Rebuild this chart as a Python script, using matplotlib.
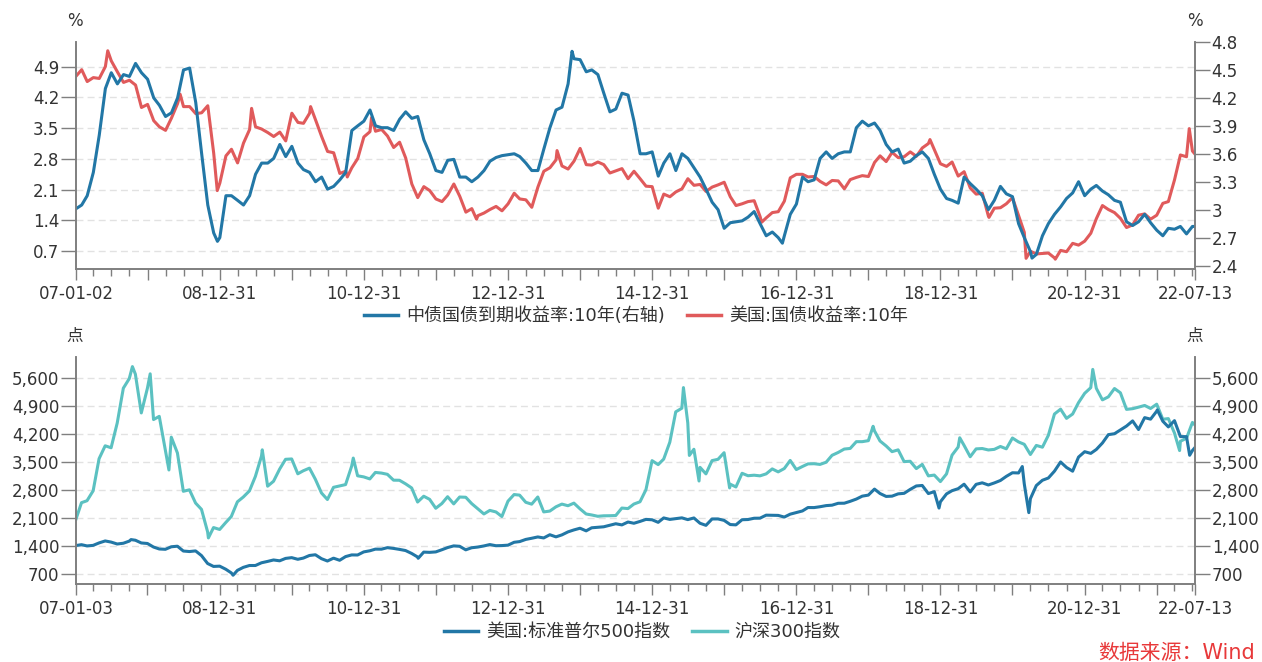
import matplotlib
matplotlib.use('Agg')
import matplotlib.pyplot as plt
import matplotlib.dates as mdates
from matplotlib.lines import Line2D
import pandas as pd

plt.rcParams['font.family'] = ['DejaVu Sans', 'Noto Sans CJK SC']

# ---- data (month-end values, 2007-01 .. 2022-06) ----
months = pd.date_range('2007-01-31', periods=186, freq='ME')

# 美国:国债收益率:10年 (left axis, %)
us_start = ('2007-01-02', 4.68)
us_end = ('2022-07-13', 2.91)
us_monthly = [
    4.83, 4.56, 4.65, 4.63, 4.90, 5.03, 4.78, 4.54, 4.59, 4.48, 3.97, 4.04,
    3.67, 3.53, 3.45, 3.73, 4.06, 3.99, 3.99, 3.83, 3.85, 4.01, 2.93, 2.25,
    2.87, 3.02, 2.71, 3.16, 3.47, 3.53, 3.48, 3.40, 3.31, 3.41, 3.21, 3.84,
    3.63, 3.61, 3.84, 3.69, 3.31, 2.97, 2.94, 2.47, 2.52, 2.60, 2.81, 3.30,
    3.42, 3.43, 3.47, 3.32, 3.06, 3.18, 2.82, 2.23, 1.92, 2.17, 2.08, 1.89,
    1.83, 1.98, 2.23, 1.95, 1.59, 1.67, 1.51, 1.57, 1.65, 1.72, 1.62, 1.78,
    2.02, 1.89, 1.87, 1.70, 2.16, 2.52, 2.60, 2.78, 2.64, 2.57, 2.75, 3.04,
    2.67, 2.66, 2.73, 2.67, 2.48, 2.53, 2.58, 2.35, 2.52, 2.35, 2.18, 2.17,
    1.68, 2.00, 1.94, 2.05, 2.12, 2.35, 2.20, 2.22, 2.06, 2.16, 2.21, 2.27,
    1.94, 1.74, 1.78, 1.83, 1.85, 1.49, 1.46, 1.58, 1.60, 1.84, 2.37, 2.45,
    2.45, 2.39, 2.40, 2.29, 2.21, 2.31, 2.30, 2.12, 2.33, 2.38, 2.42, 2.40,
    2.72, 2.87, 2.74, 2.95, 2.83, 2.85, 2.96, 2.86, 3.05, 3.15, 3.01, 2.69,
    2.63, 2.73, 2.41, 2.51, 2.14, 2.00, 2.02, 1.50, 1.68, 1.69, 1.78, 1.92,
    1.51, 1.13, 0.70, 0.64, 0.65, 0.66, 0.55, 0.72, 0.69, 0.88, 0.84, 0.93,
    1.11, 1.44, 1.74, 1.65, 1.58, 1.45, 1.24, 1.30, 1.52, 1.55, 1.43, 1.52,
    1.79, 1.83, 2.32, 2.89, 2.85, 2.98,
]
us_extra = [('2007-06-12', 5.26), ('2008-06-13', 4.27), ('2008-12-18', 2.08),
            ('2009-06-10', 3.95), ('2010-04-05', 3.99), ('2010-10-08', 2.39),
            ('2011-02-08', 3.74), ('2012-07-24', 1.43), ('2013-09-05', 2.99),
            ('2016-07-08', 1.36), ('2018-11-08', 3.24), ('2019-09-03', 1.47),
            ('2020-03-09', 0.54), ('2020-08-04', 0.52), ('2022-06-14', 3.49)]

# 中债国债到期收益率:10年 (right axis, %)
cn_start = ('2007-01-02', 3.01)
cn_end = ('2022-07-13', 2.82)
cn_monthly = [
    3.05, 3.15, 3.40, 3.80, 4.30, 4.47, 4.35, 4.45, 4.43, 4.57, 4.47, 4.40,
    4.20, 4.12, 4.00, 4.04, 4.20, 4.50, 4.52, 4.15, 3.60, 3.05, 2.75, 2.70,
    3.15, 3.15, 3.10, 3.05, 3.15, 3.38, 3.50, 3.50, 3.55, 3.70, 3.57, 3.68,
    3.50, 3.43, 3.40, 3.30, 3.35, 3.22, 3.25, 3.32, 3.40, 3.85, 3.90, 3.95,
    4.07, 3.90, 3.88, 3.88, 3.85, 3.97, 4.05, 3.98, 4.00, 3.75, 3.60, 3.42,
    3.40, 3.53, 3.54, 3.35, 3.35, 3.30, 3.35, 3.42, 3.52, 3.56, 3.58, 3.59,
    3.60, 3.57, 3.50, 3.42, 3.42, 3.65, 3.88, 4.07, 4.10, 4.35, 4.62, 4.61,
    4.48, 4.50, 4.45, 4.25, 4.05, 4.08, 4.25, 4.23, 3.95, 3.60, 3.60, 3.62,
    3.36, 3.50, 3.60, 3.42, 3.60, 3.55, 3.45, 3.35, 3.22, 3.08, 3.00, 2.80,
    2.86, 2.87, 2.88, 2.92, 2.98, 2.85, 2.72, 2.76, 2.70, 2.72, 2.95, 3.06,
    3.35, 3.30, 3.32, 3.55, 3.62, 3.55, 3.60, 3.62, 3.62, 3.88, 3.95, 3.90,
    3.93, 3.85, 3.70, 3.62, 3.65, 3.50, 3.52, 3.58, 3.62, 3.55, 3.38, 3.22,
    3.12, 3.10, 3.07, 3.35, 3.28, 3.22, 3.15, 3.00, 3.10, 3.25, 3.17, 3.14,
    2.85, 2.70, 2.55, 2.52, 2.72, 2.85, 2.95, 3.03, 3.12, 3.18, 3.30, 3.15,
    3.22, 3.26, 3.20, 3.16, 3.10, 3.08, 2.87, 2.83, 2.87, 2.95, 2.86, 2.78,
    2.72, 2.80, 2.79, 2.82, 2.74, 2.82,
]
cn_extra = [('2008-12-19', 2.66), ('2013-11-20', 4.70), ('2016-10-21', 2.64),
            ('2020-04-08', 2.48)]

# 美国:标准普尔500指数 (点)
sp_start = ('2007-01-03', 1417)
sp_end = ('2022-07-13', 3860)
sp_monthly = [
    1438, 1407, 1421, 1482, 1531, 1503, 1455, 1474, 1527, 1549, 1481, 1468,
    1379, 1331, 1323, 1386, 1400, 1280, 1267, 1283, 1166, 969, 896, 903,
    826, 735, 798, 873, 919, 919, 987, 1021, 1057, 1036, 1096, 1115,
    1074, 1104, 1169, 1187, 1089, 1031, 1102, 1049, 1141, 1183, 1181, 1258,
    1286, 1327, 1326, 1364, 1345, 1321, 1292, 1219, 1131, 1253, 1247, 1258,
    1312, 1366, 1408, 1398, 1310, 1362, 1379, 1407, 1441, 1412, 1416, 1426,
    1498, 1515, 1569, 1598, 1631, 1606, 1686, 1633, 1682, 1757, 1806, 1848,
    1783, 1859, 1872, 1884, 1924, 1960, 1931, 2003, 1972, 2018, 2068, 2059,
    1995, 2105, 2068, 2086, 2107, 2063, 2104, 1972, 1920, 2079, 2080, 2044,
    1940, 1932, 2060, 2065, 2097, 2099, 2174, 2171, 2168, 2126, 2199, 2239,
    2279, 2364, 2363, 2384, 2412, 2423, 2470, 2472, 2519, 2575, 2648, 2674,
    2824, 2714, 2641, 2648, 2705, 2718, 2816, 2902, 2914, 2712, 2760, 2507,
    2704, 2784, 2834, 2946, 2752, 2942, 2980, 2926, 2977, 3038, 3141, 3231,
    3226, 2954, 2585, 2912, 3044, 3100, 3271, 3500, 3363, 3270, 3622, 3756,
    3714, 3811, 3973, 4181, 4204, 4298, 4395, 4523, 4308, 4605, 4567, 4766,
    4516, 4374, 4530, 4132, 4132, 3785,
]
sp_extra = [('2007-10-09', 1565), ('2009-03-09', 677), ('2011-10-03', 1099),
            ('2018-12-24', 2351), ('2020-02-19', 3386), ('2020-03-23', 2237),
            ('2022-01-03', 4797), ('2022-06-16', 3667)]

# 沪深300指数 (点)
hs_start = ('2007-01-03', 2073)
hs_end = ('2022-07-13', 4420)
hs_monthly = [
    2485, 2534, 2781, 3581, 3903, 3854, 4471, 5339, 5577, 5689, 4722, 5338,
    4557, 4637, 3790, 4118, 3724, 2769, 2806, 2476, 2318, 1758, 1865, 1817,
    1991, 2140, 2507, 2627, 2779, 3139, 3646, 2896, 3019, 3322, 3566, 3575,
    3205, 3281, 3346, 3068, 2727, 2564, 2868, 2903, 2936, 3397, 3155, 3128,
    3077, 3239, 3223, 3192, 3046, 3044, 2955, 2852, 2501, 2646, 2568, 2346,
    2464, 2634, 2455, 2626, 2620, 2462, 2333, 2204, 2293, 2254, 2140, 2523,
    2688, 2673, 2495, 2448, 2627, 2255, 2276, 2382, 2450, 2409, 2474, 2331,
    2203, 2179, 2146, 2158, 2160, 2165, 2351, 2338, 2451, 2508, 2808, 3533,
    3434, 3572, 3993, 4749, 4840, 4473, 3817, 3366, 3203, 3534, 3566, 3731,
    2946, 2877, 3218, 3157, 3170, 3154, 3203, 3327, 3253, 3336, 3538, 3311,
    3387, 3452, 3456, 3439, 3493, 3666, 3737, 3822, 3837, 4006, 4006, 4031,
    4275, 4023, 3899, 3757, 3802, 3510, 3517, 3335, 3439, 3153, 3173, 3011,
    3202, 3670, 3872, 3913, 3630, 3826, 3835, 3799, 3814, 3886, 3828, 4097,
    3999, 3940, 3686, 3912, 3868, 4164, 4695, 4816, 4587, 4695, 4980, 5211,
    5352, 5336, 5048, 5123, 5331, 5224, 4811, 4828, 4866, 4909, 4833, 4940,
    4564, 4581, 4223, 4016, 4091, 4485,
]
hs_extra = [('2007-10-16', 5877), ('2008-01-14', 5697), ('2008-04-18', 3300),
            ('2008-11-04', 1607), ('2009-08-04', 3803), ('2010-11-08', 3597),
            ('2015-06-08', 5354), ('2015-07-08', 3663), ('2015-08-26', 3025),
            ('2016-01-28', 2853), ('2018-01-24', 4389), ('2019-04-08', 4103),
            ('2021-02-10', 5807), ('2022-04-26', 3784)]

top_left_ticks = [0.7, 1.4, 2.1, 2.8, 3.5, 4.2, 4.9]
top_right_ticks = [2.4, 2.7, 3.0, 3.3, 3.6, 3.9, 4.2, 4.5, 4.8]
top_right_labels = ['2.4', '2.7', '3', '3.3', '3.6', '3.9', '4.2', '4.5', '4.8']
bot_ticks = [700, 1400, 2100, 2800, 3500, 4200, 4900, 5600]
bot_labels = ['700', '1,400', '2,100', '2,800', '3,500', '4,200', '4,900', '5,600']


def build(start, monthly, end, extra):
    s = pd.Series(monthly, index=months)
    pts = [start, end] + extra
    s2 = pd.Series([v for _, v in pts], index=pd.to_datetime([d for d, _ in pts]))
    return pd.concat([s, s2]).sort_index()


us = build(us_start, us_monthly, us_end, us_extra)
cn = build(cn_start, cn_monthly, cn_end, cn_extra)
sp = build(sp_start, sp_monthly, sp_end, sp_extra)
hs = build(hs_start, hs_monthly, hs_end, hs_extra)

BLUE = '#2277a6'
RED = '#e05a5b'
TEAL = '#5bc1c1'
GRID = '#e2e2e2'
SPINE = '#7f7f7f'
TXT = '#333333'

fig = plt.figure(figsize=(12.62, 6.62), dpi=100)


def style_x(ax, start, end):
    x0, x1 = pd.Timestamp(start), pd.Timestamp(end)
    ax.set_xlim(x0, x1)
    majors = [x0] + list(pd.date_range('2007-12-31', '2021-12-31', freq='YE')) + [x1]
    labels = []
    for d in majors:
        if d == x0 or d == x1 or (d.year % 2 == 0):
            labels.append(d.strftime('%y-%m-%d'))
        else:
            labels.append('')
    ax.set_xticks(majors)
    ax.set_xticklabels(labels)
    minors = [d for d in pd.date_range('2007-03-31', '2022-06-30', freq='QE') if d.month != 12]
    ax.set_xticks(minors, minor=True)
    ax.tick_params(axis='x', which='major', length=8, width=1, color=SPINE, pad=3,
                   labelsize=12, labelcolor=TXT)
    ax.tick_params(axis='x', which='minor', length=5, width=1, color=SPINE)


def style_spines(ax):
    ax.spines['top'].set_visible(False)
    for s in ('left', 'right', 'bottom'):
        ax.spines[s].set_color(SPINE)
        ax.spines[s].set_linewidth(1.2)


# ---- top panel ----
ax1 = fig.add_axes([0.0602, 0.5932, 0.8867, 0.3434])
ax1r = ax1.twinx()
l_us, = ax1.plot(us.index, us.values, color=RED, lw=2.2)
l_cn, = ax1r.plot(cn.index, cn.values, color=BLUE, lw=2.2)
ax1.set_ylim(0.29, 5.46)
ax1r.set_ylim(2.36, 4.80)
ax1.set_yticks(top_left_ticks)
ax1.set_yticklabels([f'{v:.1f}' for v in top_left_ticks])
ax1r.set_yticks(top_right_ticks)
ax1r.set_yticklabels(top_right_labels)
ax1.yaxis.grid(True, linestyle=(0, (5, 3)), color=GRID, lw=1)
ax1.set_axisbelow(True)
style_x(ax1, '2007-01-02', '2022-07-13')
for a in (ax1, ax1r):
    style_spines(a)
    a.tick_params(axis='y', length=11, width=1, color=SPINE, pad=1,
                  labelsize=12, labelcolor=TXT)

# ---- bottom panel ----
ax2 = fig.add_axes([0.0602, 0.1174, 0.8867, 0.3433])
ax2r = ax2.twinx()
l_hs, = ax2.plot(hs.index, hs.values, color=TEAL, lw=2.2)
l_sp, = ax2.plot(sp.index, sp.values, color=BLUE, lw=2.2)
for a in (ax2, ax2r):
    a.set_ylim(451, 6116)
    a.set_yticks(bot_ticks)
    a.set_yticklabels(bot_labels)
    style_spines(a)
    a.tick_params(axis='y', length=11, width=1, color=SPINE, pad=1,
                  labelsize=12, labelcolor=TXT)
ax2.yaxis.grid(True, linestyle=(0, (5, 3)), color=GRID, lw=1)
ax2.set_axisbelow(True)
style_x(ax2, '2007-01-03', '2022-07-13')

# ---- unit labels ----
for x in (75 / 1262, 1195 / 1262):
    fig.text(x, 1 - 21 / 662, '%', ha='center', va='center', fontsize=12, color=TXT)
    fig.text(x, 1 - 336 / 662, '点', ha='center', va='center', fontsize=12, color=TXT)

# ---- legends ----
leg_kw = dict(frameon=False, ncol=2, fontsize=13, handlelength=1.9,
              handletextpad=0.45, columnspacing=1.2, loc='center')
h1 = [Line2D([], [], color=BLUE, lw=2.5), Line2D([], [], color=RED, lw=2.5)]
leg1 = fig.legend(h1, ['中债国债到期收益率:10年(右轴)', '美国:国债收益率:10年'],
                  bbox_to_anchor=(0.504, 1 - 316 / 662), **leg_kw)
h2 = [Line2D([], [], color=BLUE, lw=2.5), Line2D([], [], color=TEAL, lw=2.5)]
leg2 = fig.legend(h2, ['美国:标准普尔500指数', '沪深300指数'],
                  bbox_to_anchor=(0.509, 1 - 632 / 662), **leg_kw)
for lg in (leg1, leg2):
    for t in lg.get_texts():
        t.set_color(TXT)

fig.text(1255 / 1262, 1 - 653 / 662, '数据来源：Wind', ha='right', va='center',
         fontsize=15, color='#e8393a')

fig.savefig('out.png', dpi=100)
